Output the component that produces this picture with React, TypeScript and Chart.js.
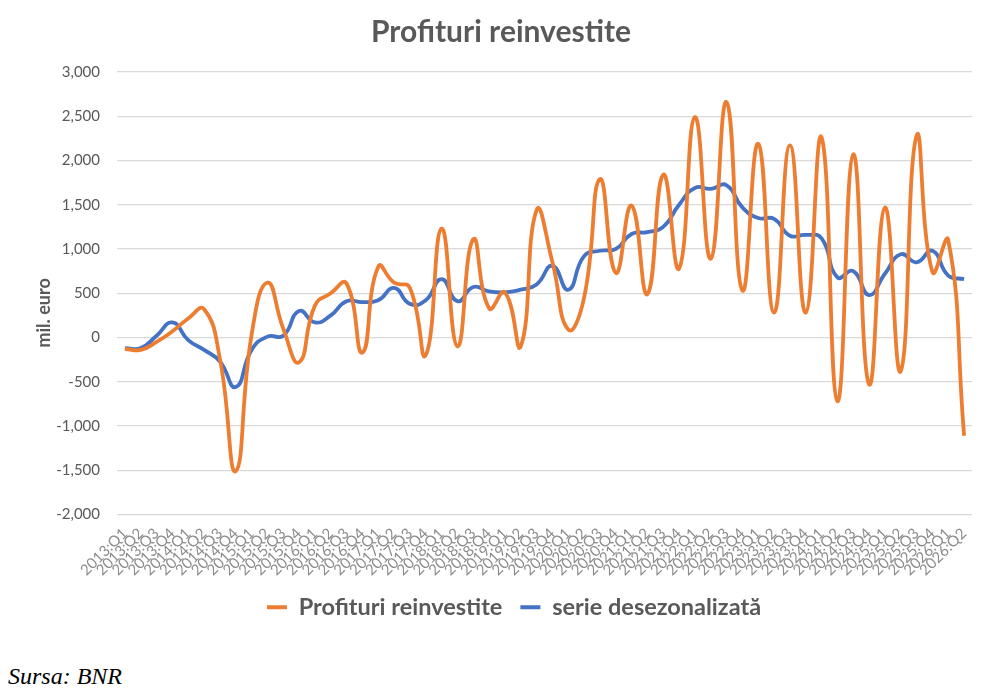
import React, { useEffect, useRef } from "react";
import { Chart, registerables } from "chart.js";

Chart.register(...registerables);

const years = [2013, 2014, 2015, 2016, 2017, 2018, 2019, 2020, 2021, 2022, 2023, 2024, 2025, 2026];
const categories: string[] = [];
years.forEach((y) => {
  [1, 2, 3, 4].forEach((q) => {
    if (y === 2026 && q > 2) return;
    categories.push(`${y}:Q${q}`);
  });
});

const profituri = [
  -130, -140, -50, 70, 215, 320, -240, -1510, 30, 620,
  100, -280, 360, 500, 610, -170, 800, 620, 560, -200,
  1230, -100, 1110, 330, 510, -100, 1440, 850, 90, 450,
  1790, 730, 1490, 490, 1840, 780, 2490, 890, 2660, 530,
  2190, 280, 2170, 280, 2260, -720, 2070, -530, 1470, -380,
  2280, 740, 1100, -1110,
];

const desezonalizata = [
  -120, -120, 20, 170, -30, -140, -270, -560, -140, 10,
  20, 300, 170, 250, 410, 400, 420, 560, 380, 420,
  660, 410, 570, 520, 510, 540, 600, 810, 540, 920,
  980, 1000, 1170, 1190, 1250, 1500, 1690, 1680, 1720, 1470,
  1350, 1340, 1150, 1160, 1120, 680, 750, 480, 720, 940,
  850, 980, 700, 660,
];

const yTicks = [3000, 2500, 2000, 1500, 1000, 500, 0, -500, -1000, -1500, -2000];

const FONT = "Lato, 'Open Sans', sans-serif";
const GRAY = "#595959";

const legendShift = {
  id: "legendShift",
  afterLayout(chart: any) {
    const lg = chart.legend;
    if (lg) {
      lg.left += 13;
      lg.right += 13;
    }
  },
};

export default function App() {
  const ref = useRef<HTMLCanvasElement | null>(null);

  useEffect(() => {
    if (!ref.current) return;
    const chart = new Chart(ref.current, {
      type: "line",
      plugins: [legendShift],
      data: {
        labels: categories,
        datasets: [
          {
            label: "Profituri reinvestite",
            data: profituri,
            borderColor: "#ED7D31",
            backgroundColor: "#ED7D31",
            borderWidth: 3.8,
            pointRadius: 0,
            pointStyle: "line",
            tension: 0.5,
          },
          {
            label: "serie desezonalizată",
            data: desezonalizata,
            borderColor: "#4472C4",
            backgroundColor: "#4472C4",
            borderWidth: 3.8,
            pointRadius: 0,
            pointStyle: "line",
            tension: 0.5,
          },
        ],
      },
      options: {
        responsive: true,
        maintainAspectRatio: false,
        animation: false,
        layout: { padding: { left: 22, right: 20, top: 2, bottom: 11 } },
        plugins: {
          title: {
            display: true,
            text: "Profituri reinvestite",
            color: GRAY,
            font: { family: FONT, size: 30, weight: "bold", lineHeight: 1.2 },
            padding: { top: 4, bottom: 22 },
          },
          legend: {
            position: "bottom",
            labels: {
              usePointStyle: true,
              pointStyleWidth: 20,
              color: GRAY,
              font: { family: FONT, size: 23.5, weight: "bold" },
              padding: 18,
            },
          },
          tooltip: { enabled: false },
        },
        scales: {
          x: {
            offset: true,
            grid: { display: false },
            border: { display: false },
            afterFit: (scale: any) => {
              scale.height = 63;
            },
            ticks: {
              autoSkip: false,
              maxRotation: 45,
              minRotation: 45,
              color: "#8c8c8c",
              font: { family: FONT, size: 15 },
              padding: 2,
            },
          },
          y: {
            min: -2000,
            max: 3000,
            afterBuildTicks: (scale: any) => {
              scale.ticks = yTicks.map((v) => ({ value: v }));
            },
            afterFit: (scale: any) => {
              scale.width = 87;
            },
            grid: { color: "#D9D9D9", lineWidth: 1.2, drawTicks: false },
            border: { display: false },
            ticks: {
              color: GRAY,
              font: { family: FONT, size: 15 },
              padding: 17,
              callback: (v: any) => Number(v).toLocaleString("en-US"),
            },
            title: {
              display: true,
              text: "mil. euro\u00A0\u00A0\u00A0\u00A0\u00A0\u00A0\u00A0\u00A0\u00A0",
              color: GRAY,
              font: { family: FONT, size: 18, weight: "bold" },
              padding: { top: 3, bottom: 0 },
            },
          },
        },
      },
    });
    return () => chart.destroy();
  }, []);

  return (
    <div>
      <div style={{ position: "relative", width: 984, height: 632 }}>
        <canvas ref={ref} />
      </div>
      <div
        style={{
          fontFamily: "'Liberation Serif', 'Times New Roman', serif",
          fontStyle: "italic",
          fontSize: 24,
          lineHeight: "27px",
          marginTop: 23,
        }}
      >
        Sursa: BNR
      </div>
    </div>
  );
}
